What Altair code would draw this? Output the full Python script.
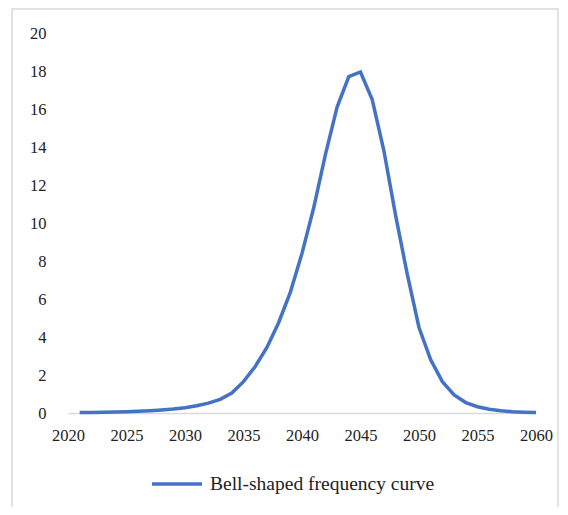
import altair as alt
import pandas as pd

years = list(range(2021, 2061))
values = [0.02, 0.03, 0.04, 0.05, 0.07, 0.09, 0.12, 0.16, 0.21, 0.28,
          0.38, 0.52, 0.72, 1.05, 1.65, 2.45, 3.45, 4.75, 6.35, 8.4,
          10.8, 13.6, 16.1, 17.7, 17.95, 16.5, 13.8, 10.4, 7.3, 4.5,
          2.8, 1.65, 0.95, 0.55, 0.33, 0.2, 0.12, 0.07, 0.04, 0.02]
series_name = "Bell-shaped frequency curve"
x_ticks = [2020, 2025, 2030, 2035, 2040, 2045, 2050, 2055, 2060]
y_ticks = [0, 2, 4, 6, 8, 10, 12, 14, 16, 18, 20]

df = pd.DataFrame({"year": years, "value": values, "series": series_name})

FONT = "Liberation Serif"

frame = alt.Chart(pd.DataFrame({"a": [0]})).mark_rect(
    fill=None, stroke="#d9d9d9", strokeWidth=1.5
).encode(
    x=alt.value(-56), x2=alt.value(490),
    y=alt.value(-24), y2=alt.value(520),
)

line = alt.Chart(df).mark_line(strokeWidth=3.5, interpolate="linear").encode(
    x=alt.X("year:Q",
            scale=alt.Scale(domain=[2020, 2060], nice=False, zero=False),
            axis=alt.Axis(values=x_ticks, format="d", title=None, grid=False,
                          ticks=False, domainColor="#d9d9d9", domainWidth=1.5,
                          labelFont=FONT, labelFontSize=16.5, labelColor="#222",
                          labelPadding=14, labelFlush=False)),
    y=alt.Y("value:Q",
            scale=alt.Scale(domain=[0, 20], nice=False),
            axis=alt.Axis(values=y_ticks, title=None, grid=False, ticks=False,
                          domain=False, labelFont=FONT, labelFontSize=16.5,
                          labelColor="#222", labelPadding=22)),
    color=alt.Color("series:N",
                    scale=alt.Scale(range=["#4472C4"]),
                    legend=alt.Legend(title=None, orient="none", legendX=82,
                                      legendY=424, symbolType="stroke",
                                      symbolSize=2500, symbolStrokeWidth=3.5,
                                      labelFont=FONT, labelFontSize=19.5,
                                      labelColor="#222", labelLimit=400,
                                      labelOffset=6)),
)

chart = alt.layer(frame, line).properties(
    width=468, height=380,
    autosize=alt.AutoSizeParams(type="none"),
    padding={"left": 60, "top": 25, "right": 24, "bottom": 94},
    background="white",
).configure_view(stroke=None)

chart.save("out.html", embed_options={"renderer": "svg", "actions": False})
